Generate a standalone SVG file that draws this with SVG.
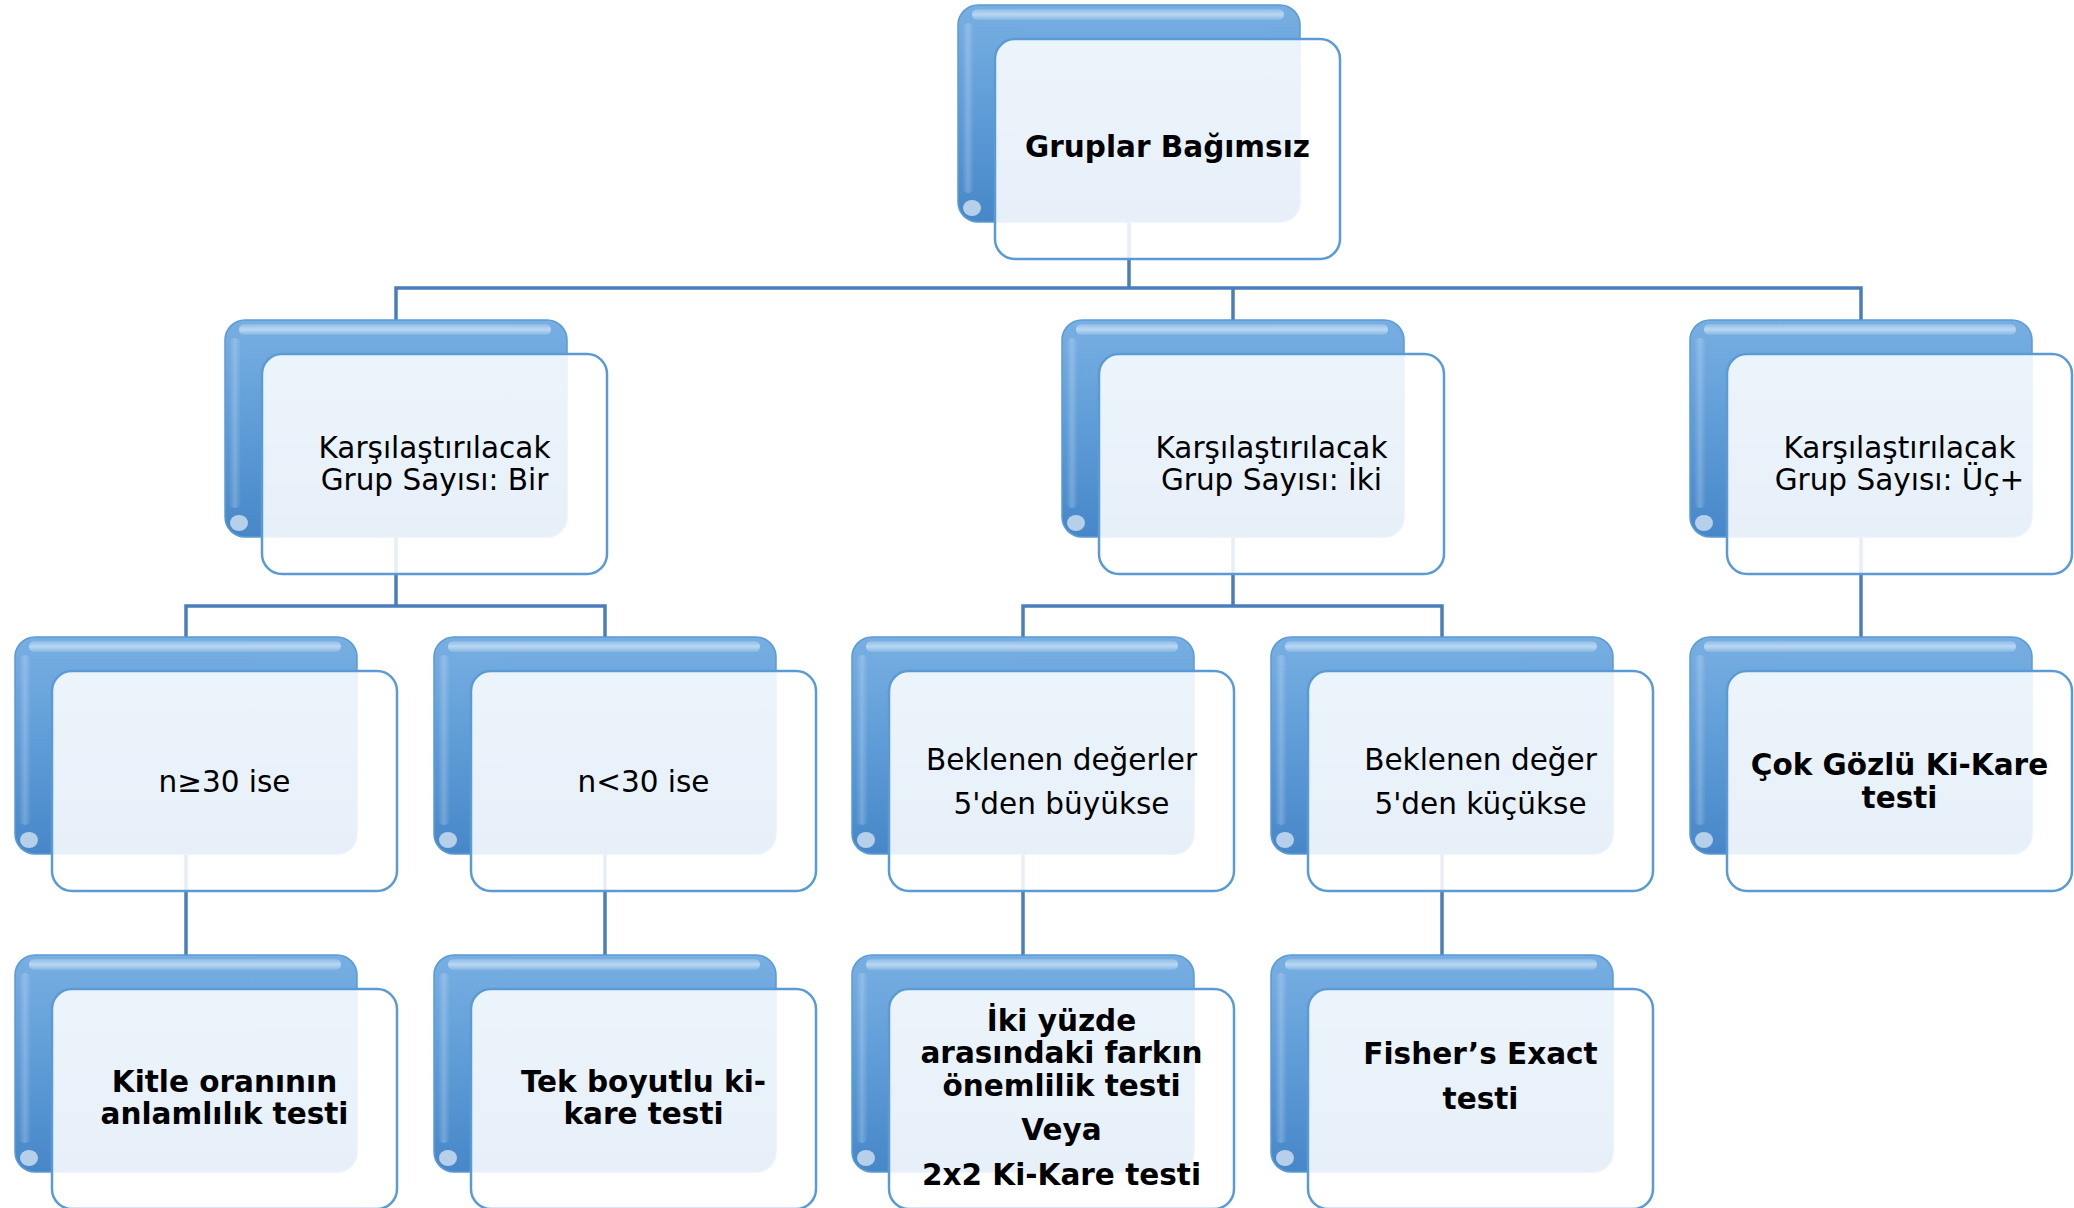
<svg xmlns="http://www.w3.org/2000/svg" xmlns:xlink="http://www.w3.org/1999/xlink" width="2074" height="1208" viewBox="0 0 2074 1208">
<defs>
<linearGradient id="blueGrad" x1="0" y1="0" x2="0" y2="1">
<stop offset="0" stop-color="#78AFE2"/>
<stop offset="0.5" stop-color="#5E9CD7"/>
<stop offset="1" stop-color="#4787C8"/>
</linearGradient>
<linearGradient id="leftGrad" x1="0" y1="0" x2="1" y2="0">
<stop offset="0" stop-color="#ffffff" stop-opacity="0"/>
<stop offset="0.5" stop-color="#ffffff" stop-opacity="0.22"/>
<stop offset="1" stop-color="#ffffff" stop-opacity="0"/>
</linearGradient>
<linearGradient id="topGrad" x1="0" y1="0" x2="0" y2="1">
<stop offset="0" stop-color="#ffffff" stop-opacity="0.15"/>
<stop offset="0.5" stop-color="#E2F2FF" stop-opacity="0.6"/>
<stop offset="1" stop-color="#ffffff" stop-opacity="0.1"/>
</linearGradient>
<g id="card">
<rect x="0" y="0" width="342" height="217" rx="20" fill="url(#blueGrad)" stroke="#5B9BD5" stroke-width="1.5"/>
<rect x="14" y="4" width="312" height="11" rx="5.5" fill="url(#topGrad)"/>
<rect x="4" y="18" width="12" height="170" rx="6" fill="url(#leftGrad)"/>
<ellipse cx="14" cy="203" rx="9" ry="8" fill="#ffffff" opacity="0.6"/>
<rect x="37" y="34" width="345" height="220" rx="20" fill="#ffffff" fill-opacity="0.87" stroke="#5B9BD5" stroke-width="2.5"/>
</g>
</defs>
<style>
.conn{fill:none;stroke:#4A7EBB;stroke-width:3.5}
.t{font-family:"DejaVu Sans","Verdana",sans-serif;font-size:29.5px;fill:#000;text-anchor:middle}
.b{font-weight:bold}
</style>
<rect width="2074" height="1208" fill="#ffffff"/>
<g id="connectors">
<path class="conn" d="M1129,210 V288 M396,320 V288 H1861 V320 M1233,288 V320"/>
<path class="conn" d="M396,530 V606 M186,637 V606 H605 V637"/>
<path class="conn" d="M1233,530 V606 M1023,637 V606 H1442 V637"/>
<path class="conn" d="M1861,530 V637"/>
<path class="conn" d="M186,845 V955 M605,845 V955 M1023,845 V955 M1442,845 V955"/>
</g>
<g id="n_root" transform="translate(958,5)">
<use xlink:href="#card"/>
<text class="t b" x="209.5" y="152">Gruplar Bağımsız</text>
</g>
<g id="n_bir" transform="translate(225,320)">
<use xlink:href="#card"/>
<text class="t" x="209.5" y="138">Karşılaştırılacak</text>
<text class="t" x="209.5" y="170">Grup Sayısı: Bir</text>
</g>
<g id="n_iki" transform="translate(1062,320)">
<use xlink:href="#card"/>
<text class="t" x="209.5" y="138">Karşılaştırılacak</text>
<text class="t" x="209.5" y="170">Grup Sayısı: İki</text>
</g>
<g id="n_uc" transform="translate(1690,320)">
<use xlink:href="#card"/>
<text class="t" x="209.5" y="138">Karşılaştırılacak</text>
<text class="t" x="209.5" y="170">Grup Sayısı: Üç+</text>
</g>
<g id="n_ge30" transform="translate(15,637)">
<use xlink:href="#card"/>
<text class="t" x="209.5" y="155">n≥30 ise</text>
</g>
<g id="n_lt30" transform="translate(434,637)">
<use xlink:href="#card"/>
<text class="t" x="209.5" y="155">n&lt;30 ise</text>
</g>
<g id="n_buyuk" transform="translate(852,637)">
<use xlink:href="#card"/>
<text class="t" x="209.5" y="133">Beklenen değerler</text>
<text class="t" x="209.5" y="177">5'den büyükse</text>
</g>
<g id="n_kucuk" transform="translate(1271,637)">
<use xlink:href="#card"/>
<text class="t" x="209.5" y="133">Beklenen değer</text>
<text class="t" x="209.5" y="177">5'den küçükse</text>
</g>
<g id="n_cok" transform="translate(1690,637)">
<use xlink:href="#card"/>
<text class="t b" x="209.5" y="138">Çok Gözlü Ki-Kare</text>
<text class="t b" x="209.5" y="171">testi</text>
</g>
<g id="n_kitle" transform="translate(15,955)">
<use xlink:href="#card"/>
<text class="t b" x="209.5" y="137">Kitle oranının</text>
<text class="t b" x="209.5" y="169">anlamlılık testi</text>
</g>
<g id="n_tek" transform="translate(434,955)">
<use xlink:href="#card"/>
<text class="t b" x="209.5" y="137">Tek boyutlu ki-</text>
<text class="t b" x="209.5" y="169">kare testi</text>
</g>
<g id="n_iki_yuzde" transform="translate(852,955)">
<use xlink:href="#card"/>
<text class="t b" x="209.5" y="76">İki yüzde</text>
<text class="t b" x="209.5" y="108">arasındaki farkın</text>
<text class="t b" x="209.5" y="141">önemlilik testi</text>
<text class="t b" x="209.5" y="185">Veya</text>
<text class="t b" x="209.5" y="230">2x2 Ki-Kare testi</text>
</g>
<g id="n_fisher" transform="translate(1271,955)">
<use xlink:href="#card"/>
<text class="t b" x="209.5" y="109">Fisher’s Exact</text>
<text class="t b" x="209.5" y="154">testi</text>
</g>
</svg>
